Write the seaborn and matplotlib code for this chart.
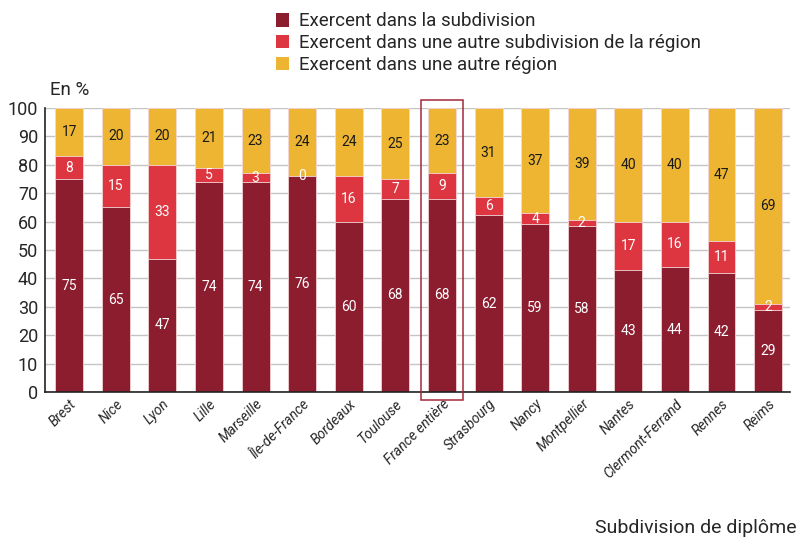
import matplotlib
matplotlib.use("Agg")
import matplotlib.pyplot as plt
import seaborn as sns
import pandas as pd
import numpy as np
from matplotlib.patches import Patch, Rectangle

categories = ["Brest", "Nice", "Lyon", "Lille", "Marseille", "Île-de-France",
              "Bordeaux", "Toulouse", "France entière", "Strasbourg", "Nancy",
              "Montpellier", "Nantes", "Clermont-Ferrand", "Rennes", "Reims"]
dans_subdivision = [75, 65, 47, 74, 74, 76, 60, 68, 68, 62.3, 59, 58.3, 43, 44, 42, 29]
autre_subdivision = [8, 15, 33, 5, 3, 0, 16, 7, 9, 6.3, 4, 2.3, 17, 16, 11, 2]
autre_region = [17, 20, 20, 21, 23, 24, 24, 25, 23, 31.4, 37, 39.4, 40, 40, 47, 69]
series_labels = ["Exercent dans la subdivision",
                 "Exercent dans une autre subdivision de la région",
                 "Exercent dans une autre région"]
y_ticks = list(range(0, 101, 10))

c_dark = "#8C1D2F"
c_red = "#DD3640"
c_yellow = "#EDB532"

sns.set_style("white")
plt.rcParams["font.family"] = ["Roboto", "DejaVu Sans"]

df = pd.DataFrame({"cat": categories, "s1": dans_subdivision,
                   "s2": autre_subdivision, "s3": autre_region})
df["c2"] = df["s1"] + df["s2"]
df["c3"] = df["c2"] + df["s3"]

fig = plt.figure(figsize=(7.99, 5.38), dpi=100)
ax = fig.add_axes([45 / 799, 1 - 392 / 538, (790 - 45) / 799, (392 - 108) / 538])

edge = dict(edgecolor="#f3d6d8", linewidth=0.6)
sns.barplot(data=df, x="cat", y="c3", order=categories, color=c_yellow,
            width=0.6, saturation=1, ax=ax, **edge)
sns.barplot(data=df, x="cat", y="c2", order=categories, color=c_red,
            width=0.6, saturation=1, ax=ax, **edge)
sns.barplot(data=df, x="cat", y="s1", order=categories, color=c_dark,
            width=0.6, saturation=1, ax=ax, **edge)

for i, row in df.iterrows():
    ax.text(i, row["s1"] / 2, f"{row['s1']:.0f}", ha="center", va="center",
            color="white", fontsize=10)
    ax.text(i, row["s1"] + row["s2"] / 2, f"{row['s2']:.0f}", ha="center",
            va="center", color="white", fontsize=10)
    ax.text(i, row["c2"] + row["s3"] / 2, f"{row['s3']:.0f}", ha="center",
            va="center", color="#1a1a1a", fontsize=10)

ax.set_xlim(-0.52, 15.47)
ax.set_ylim(0, 100)
ax.set_yticks(y_ticks)
ax.set_yticklabels([str(t) for t in y_ticks], fontsize=13)
ax.yaxis.grid(True, color="#c4c4c4", linewidth=1)
ax.set_axisbelow(True)
ax.tick_params(axis="both", length=0)
ax.tick_params(axis="y", pad=5)
ax.set_xlabel("")
ax.set_ylabel("")
ax.set_xticks(range(len(categories)))
ax.set_xticklabels(categories, rotation=45, ha="right", rotation_mode="anchor",
                   fontsize=10, fontstyle="italic")
for s in ["top", "right"]:
    ax.spines[s].set_visible(False)
for s in ["left", "bottom"]:
    ax.spines[s].set_color("#222222")
    ax.spines[s].set_linewidth(1.2)

idx = categories.index("France entière")
ax.add_patch(Rectangle((idx - 0.46, -2.8), 0.92, 105.6, fill=False,
                       edgecolor="#A3283A", linewidth=1.1, clip_on=False, zorder=5))

handles = [Patch(facecolor=c, edgecolor="none") for c in (c_dark, c_red, c_yellow)]
fig.legend(handles, series_labels, loc="upper left",
           bbox_to_anchor=(268 / 799, 1 - 5 / 538), frameon=False,
           handlelength=0.7, handleheight=0.7, handletextpad=0.55,
           labelspacing=0.2, fontsize=13.5, borderaxespad=0)

fig.text(50 / 799, 1 - 90 / 538, "En %", fontsize=13.5, ha="left", va="center")
fig.text(797 / 799, 1 - 528 / 538, "Subdivision de diplôme", fontsize=14,
         ha="right", va="center")

fig.savefig("out.png", dpi=100)
